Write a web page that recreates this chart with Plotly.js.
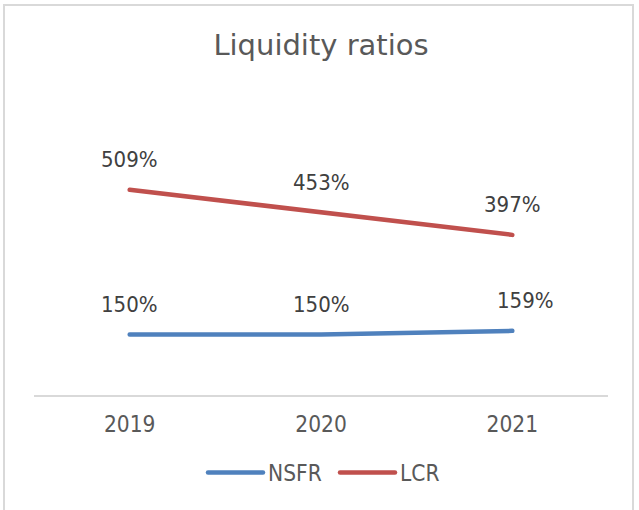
<!DOCTYPE html>
<html>
<head>
<meta charset="utf-8">
<script src="https://cdn.plot.ly/plotly-3.0.1.min.js"></script>
<style>
  html, body { margin: 0; padding: 0; background: #ffffff; overflow: hidden; }
  #wrap { position: relative; width: 639px; height: 510px; }
  #chart { position: absolute; left: 0; top: 0; width: 639px; height: 510px; }
  #frame { position: absolute; left: 3px; top: 4px; width: 631px; height: 520px;
           border: 2px solid #d9d9d9; pointer-events: none; box-sizing: border-box; }
  .js-line, .legendlines path { stroke-linecap: round; stroke-linejoin: round; }
</style>
</head>
<body>
<div id="wrap">
  <div id="chart"></div>
  <div id="frame"></div>
</div>
<script>
const years = ['2019', '2020', '2021'];
const nsfr = [150, 150, 159];
const lcr = [509, 453, 397];
const seriesNames = ['NSFR', 'LCR'];
const chartTitle = 'Liquidity ratios';

const narrow = '"Liberation Sans Narrow", "DejaVu Sans Condensed", sans-serif';
const colors = ['#4f81bd', '#c0504d'];
const allSeries = [nsfr, lcr];

const traces = allSeries.map((vals, i) => ({
  type: 'scatter',
  mode: 'lines',
  x: years,
  y: vals,
  name: seriesNames[i],
  line: { color: colors[i], width: 4.5 },
  hoverinfo: 'skip'
}));

// label offsets (style only)
const labelXShift = { 'NSFR-2021': 13 };

const annotations = [];
allSeries.forEach((vals, i) => {
  vals.forEach((v, j) => {
    annotations.push({
      x: j, y: v, xref: 'x', yref: 'y',
      text: v + '%',
      showarrow: false,
      yshift: 30,
      xshift: labelXShift[seriesNames[i] + '-' + years[j]] || 0,
      font: { family: narrow, size: 22, color: '#404040' }
    });
  });
});

const layout = {
  width: 639, height: 510,
  margin: { l: 34, r: 31, t: 153, b: 115, pad: 0 },
  paper_bgcolor: '#ffffff', plot_bgcolor: '#ffffff',
  title: {
    text: chartTitle,
    font: { family: '"DejaVu Sans", sans-serif', size: 29, color: '#595959' },
    x: 0.5, xref: 'paper', xanchor: 'center',
    y: 1 - 45 / 510, yref: 'container', yanchor: 'middle'
  },
  xaxis: {
    type: 'category',
    range: [-0.5, 2.5],
    showline: true, linecolor: '#d9d9d9', linewidth: 1.5,
    showgrid: false, zeroline: false, ticks: '',
    ticklabelstandoff: 8,
    tickfont: { family: narrow, size: 22.5, color: '#595959' },
    fixedrange: true
  },
  yaxis: {
    range: [0, 600],
    visible: false, showgrid: false, zeroline: false,
    fixedrange: true
  },
  showlegend: true,
  legend: {
    orientation: 'h',
    x: (208 - 44 + 30) / 574, xanchor: 'left', xref: 'paper',
    y: -0.322, yanchor: 'middle',
    font: { family: narrow, size: 22.5, color: '#595959' },
    entrywidth: 87, entrywidthmode: 'pixels',
    traceorder: 'normal'
  },
  annotations: annotations
};

Plotly.newPlot('chart', traces, layout, { displayModeBar: false, staticPlot: true }).then(gd => {
  // lengthen legend line samples to match the reference look
  gd.querySelectorAll('.legend .scrollbox, .legend').forEach(g => g.removeAttribute('clip-path'));
  gd.querySelectorAll('.legendlines path').forEach(p => {
    p.setAttribute('d', 'M-20,0h55');
  });
});
</script>
</body>
</html>
